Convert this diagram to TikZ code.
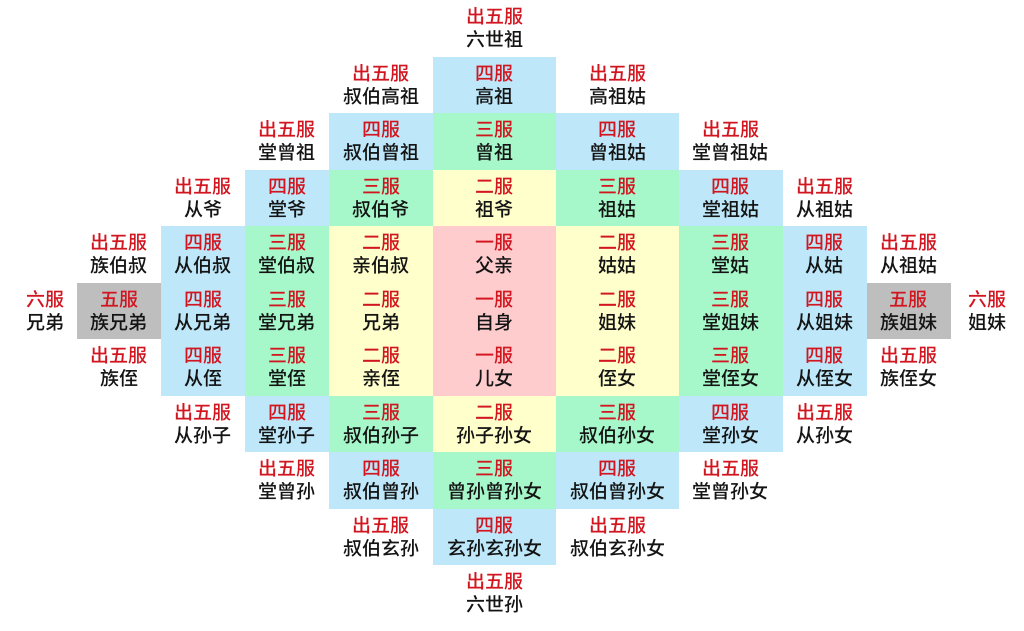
\documentclass[tikz,border=0pt]{standalone}
\usepackage{fontspec}
\usepackage{tikz}
\usetikzlibrary{positioning}
\newfontfamily\cjk{Noto Sans CJK SC}[UprightFont=* Medium]
\definecolor{pinkcell}{RGB}{255,204,206}
\definecolor{yellowcell}{RGB}{255,255,204}
\definecolor{greencell}{RGB}{166,248,202}
\definecolor{bluecell}{RGB}{190,232,250}
\definecolor{graycell}{RGB}{190,190,190}
\definecolor{fured}{RGB}{210,22,32}
\definecolor{textblack}{RGB}{20,20,20}
\newcommand{\fuming}[1]{\textcolor{fured}{#1}}

\begin{document}
\begin{tikzpicture}[
        node distance=0pt and 0pt,
        cell/.style={minimum height=56.5pt, inner sep=0pt, outer sep=0pt, align=center, text=textblack, font=\cjk\fontsize{19}{23}\selectfont},
        wide/.style={minimum width=123pt},
        mid/.style={minimum width=103.5pt},
        narrow/.style={minimum width=84pt},
        chu/.style={cell},
        yifu/.style={cell, fill=pinkcell},
        erfu/.style={cell, fill=yellowcell},
        sanfu/.style={cell, fill=greencell},
        sifu/.style={cell, fill=bluecell},
        wufu/.style={cell, fill=graycell}
    ]
    \useasboundingbox (-494.5pt,-319.25pt) rectangle (529.5pt,310.75pt);

    % Nodes: middle column
    \node (zishen)[yifu, wide] at (0,0) {\fuming{一服}\\自身};
    \node (fuqin)[above=of zishen, yifu, wide] {\fuming{一服}\\父亲};
    \node (zuye)[above=of fuqin, erfu, wide] {\fuming{二服}\\祖爷};
    \node (zengzu)[above=of zuye, sanfu, wide] {\fuming{三服}\\曾祖};
    \node (gaozu)[above=of zengzu, sifu, wide] {\fuming{四服}\\高祖};
    \node (liushizu)[above=of gaozu, chu, wide] {\fuming{出五服}\\六世祖};
    \node (ernv)[below=of zishen, yifu, wide] {\fuming{一服}\\儿女};
    \node (sunzi)[below=of ernv, erfu, wide] {\fuming{二服}\\孙子孙女};
    \node (zengsun)[below=of sunzi, sanfu, wide] {\fuming{三服}\\曾孙曾孙女};
    \node (xuansun)[below=of zengsun, sifu, wide] {\fuming{四服}\\玄孙玄孙女};
    \node (liushisun)[below=of xuansun, chu, wide] {\fuming{出五服}\\六世孙};

    % Nodes: left side
    \node (xiongdi)[left=of zishen, erfu, mid] {\fuming{二服}\\兄弟};
    \node (qinboshu)[above=of xiongdi, erfu, mid] {\fuming{二服}\\亲伯叔};
    \node (shuboye)[above=of qinboshu, sanfu, mid] {\fuming{三服}\\叔伯爷};
    \node (shubozengzu)[above=of shuboye, sifu, mid] {\fuming{四服}\\叔伯曾祖};
    \node (shubogaozu)[above=of shubozengzu, chu, mid] {\fuming{出五服}\\叔伯高祖};
    \node (qinzhi)[below=of xiongdi, erfu, mid] {\fuming{二服}\\亲侄};
    \node (shubosunzi)[below=of qinzhi, sanfu, mid] {\fuming{三服}\\叔伯孙子};
    \node (shubozengsun)[below=of shubosunzi, sifu, mid] {\fuming{四服}\\叔伯曾孙};
    \node (shuboxuansun)[below=of shubozengsun, chu, mid] {\fuming{出五服}\\叔伯玄孙};

    \node (tangxiongdi)[left=of xiongdi, sanfu, narrow] {\fuming{三服}\\堂兄弟};
    \node (tangboshu)[above=of tangxiongdi, sanfu, narrow] {\fuming{三服}\\堂伯叔};
    \node (tangye)[above=of tangboshu, sifu, narrow] {\fuming{四服}\\堂爷};
    \node (tangzengzu)[above=of tangye, chu, narrow] {\fuming{出五服}\\堂曾祖};
    \node (tangzhi)[below=of tangxiongdi, sanfu, narrow] {\fuming{三服}\\堂侄};
    \node (tangsunzi)[below=of tangzhi, sifu, narrow] {\fuming{四服}\\堂孙子};
    \node (tangzengsun)[below=of tangsunzi, chu, narrow] {\fuming{出五服}\\堂曾孙};

    \node (congxiongdi)[left=of tangxiongdi, sifu, narrow] {\fuming{四服}\\从兄弟};
    \node (congboshu)[above=of congxiongdi, sifu, narrow] {\fuming{四服}\\从伯叔};
    \node (congye)[above=of congboshu, chu, narrow] {\fuming{出五服}\\从爷};
    \node (congzhi)[below=of congxiongdi, sifu, narrow] {\fuming{四服}\\从侄};
    \node (congsunzi)[below=of congzhi, chu, narrow] {\fuming{出五服}\\从孙子};

    \node (zuxiongdi)[left=of congxiongdi, wufu, narrow] {\fuming{五服}\\族兄弟};
    \node (zuboshu)[above=of zuxiongdi, chu, narrow] {\fuming{出五服}\\族伯叔};
    \node (zuzhi)[below=of zuxiongdi, chu, narrow] {\fuming{出五服}\\族侄};
    \node (liufuxiongdi)[left=of zuxiongdi, chu, minimum width=64pt] {\fuming{六服}\\兄弟};

    % Nodes: right side
    \node (jiemei)[right=of zishen, erfu, wide] {\fuming{二服}\\姐妹};
    \node (gugu)[above=of jiemei, erfu, wide] {\fuming{二服}\\姑姑};
    \node (zugu)[above=of gugu, sanfu, wide] {\fuming{三服}\\祖姑};
    \node (zengzugu)[above=of zugu, sifu, wide] {\fuming{四服}\\曾祖姑};
    \node (gaozugu)[above=of zengzugu, chu, wide] {\fuming{出五服}\\高祖姑};
    \node (zhinv)[below=of jiemei, erfu, wide] {\fuming{二服}\\侄女};
    \node (shubosunnv)[below=of zhinv, sanfu, wide] {\fuming{三服}\\叔伯孙女};
    \node (shubozengsunnv)[below=of shubosunnv, sifu, wide] {\fuming{四服}\\叔伯曾孙女};
    \node (shuboxuansunnv)[below=of shubozengsunnv, chu, wide] {\fuming{出五服}\\叔伯玄孙女};

    \node (tangjiemei)[right=of jiemei, sanfu, mid] {\fuming{三服}\\堂姐妹};
    \node (tanggu)[above=of tangjiemei, sanfu, mid] {\fuming{三服}\\堂姑};
    \node (tangzugu)[above=of tanggu, sifu, mid] {\fuming{四服}\\堂祖姑};
    \node (tangzengzugu)[above=of tangzugu, chu, mid] {\fuming{出五服}\\堂曾祖姑};
    \node (tangzhinv)[below=of tangjiemei, sanfu, mid] {\fuming{三服}\\堂侄女};
    \node (tangsunnv)[below=of tangzhinv, sifu, mid] {\fuming{四服}\\堂孙女};
    \node (tangzengsunnv)[below=of tangsunnv, chu, mid] {\fuming{出五服}\\堂曾孙女};

    \node (congjiemei)[right=of tangjiemei, sifu, narrow] {\fuming{四服}\\从姐妹};
    \node (conggu)[above=of congjiemei, sifu, narrow] {\fuming{四服}\\从姑};
    \node (congzugu)[above=of conggu, chu, narrow] {\fuming{出五服}\\从祖姑};
    \node (congzhinv)[below=of congjiemei, sifu, narrow] {\fuming{四服}\\从侄女};
    \node (congsunnv)[below=of congzhinv, chu, narrow] {\fuming{出五服}\\从孙女};

    \node (zujiemei)[right=of congjiemei, wufu, narrow] {\fuming{五服}\\族姐妹};
    \node (zuzugu)[above=of zujiemei, chu, narrow] {\fuming{出五服}\\从祖姑};
    \node (zuzhinv)[below=of zujiemei, chu, narrow] {\fuming{出五服}\\族侄女};
    \node (liufujiemei)[right=of zujiemei, chu, minimum width=74pt] {\fuming{六服}\\姐妹};

\end{tikzpicture}
\end{document}
